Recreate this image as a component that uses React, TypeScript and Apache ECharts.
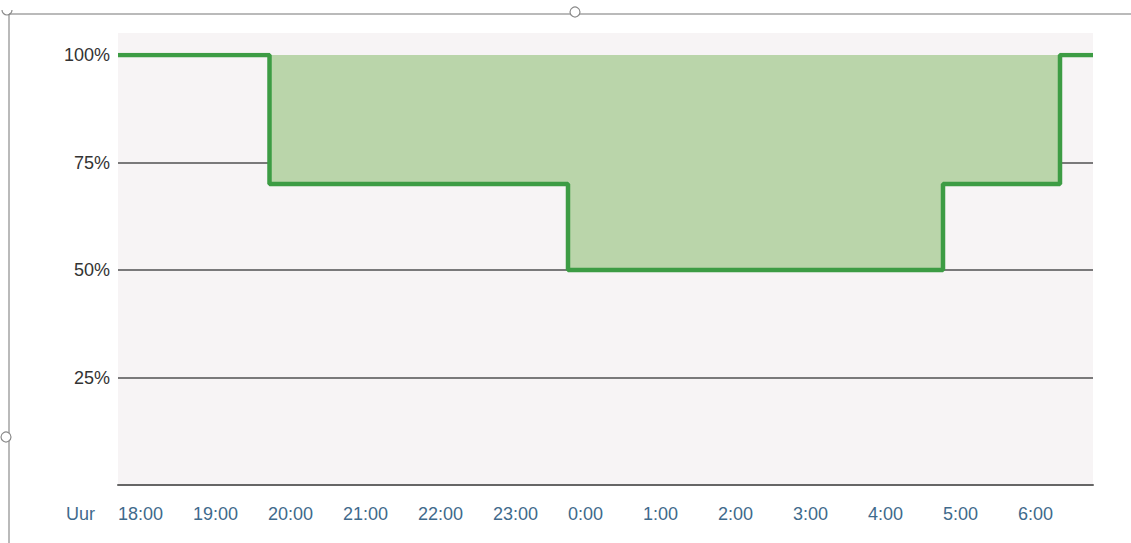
import React, { useEffect, useRef } from "react";
import * as echarts from "echarts";

// Hours elapsed since 18:00
const stepHours = [0, 2.02, 2.02, 6, 6, 11, 11, 12.56, 12.56, 13];
const stepLevels = [100, 100, 70, 70, 50, 50, 70, 70, 100, 100];
const startHour = 18;
const spanHours = 13;
const yTicks = [0, 25, 50, 75, 100];

export default function App() {
  const ref = useRef<HTMLDivElement>(null);
  useEffect(() => {
    const chart = echarts.init(ref.current!, null, { renderer: "svg" });
    const data = stepHours.map((h, i) => [h, stepLevels[i]]);
    chart.setOption({
      animation: false,
      backgroundColor: "#ffffff",
      textStyle: { fontFamily: "Liberation Sans, Arial, sans-serif" },
      grid: { left: 118, right: 38, top: 55, bottom: 58, show: false },
      graphic: [
        { type: "rect", z: -10, shape: { x: 118, y: 33, width: 975, height: 452 }, style: { fill: "#f7f4f5" }, silent: true },
        { type: "line", shape: { x1: 9, y1: 14, x2: 1131, y2: 14 }, style: { stroke: "#a3a3a3", lineWidth: 1.5 } },
        { type: "line", shape: { x1: 9, y1: 14, x2: 9, y2: 543 }, style: { stroke: "#a3a3a3", lineWidth: 1.5 } },
        { type: "circle", shape: { cx: 575, cy: 12, r: 5 }, style: { fill: "#ffffff", stroke: "#8a8a8a", lineWidth: 1.2 } },
        { type: "circle", shape: { cx: 6, cy: 437, r: 5 }, style: { fill: "#ffffff", stroke: "#8a8a8a", lineWidth: 1.2 } },
        { type: "arc", shape: { cx: 7, cy: 10, r: 5, startAngle: 0, endAngle: Math.PI }, style: { stroke: "#8a8a8a", lineWidth: 1.2, fill: "none" } },
        {
          type: "text",
          style: { text: "Uur", x: 95, y: 514, align: "right", verticalAlign: "middle", fontSize: 18, fill: "#3f6a8c", fontFamily: "Liberation Sans, Arial, sans-serif" },
        },
      ],
      xAxis: {
        type: "value",
        min: 0,
        max: spanHours,
        interval: 1,
        axisLine: { show: true, lineStyle: { color: "#666666", width: 2 } },
        axisTick: { show: false },
        splitLine: { show: false },
        axisLabel: {
          align: "left",
          margin: 20,
          fontSize: 18,
          color: "#3f6a8c",
          showMaxLabel: false,
          formatter: (v: number) => (v >= spanHours ? "" : ((startHour + v) % 24) + ":00"),
        },
      },
      yAxis: {
        type: "value",
        min: yTicks[0],
        max: yTicks[yTicks.length - 1],
        interval: 25,
        axisLine: { show: false },
        axisTick: { show: false },
        splitLine: {
          show: true,
          lineStyle: { color: ["#505050", "#505050", "#505050", "#505050", "rgba(0,0,0,0)"], width: 1.5 },
        },
        axisLabel: {
          margin: 8,
          fontSize: 18,
          color: "#333333",
          formatter: (v: number) => (v === 0 ? "" : v + "%"),
        },
      },
      series: [
        {
          type: "line",
          data,
          symbol: "none",
          lineStyle: { color: "#3d9c44", width: 4.5 },
          areaStyle: { origin: "end", color: "#bad5aa", opacity: 1 },
          z: 3,
        },
      ],
    });
    return () => chart.dispose();
  }, []);
  return <div ref={ref} style={{ position: "fixed", left: 0, top: 0, width: 1131, height: 543 }} />;
}
